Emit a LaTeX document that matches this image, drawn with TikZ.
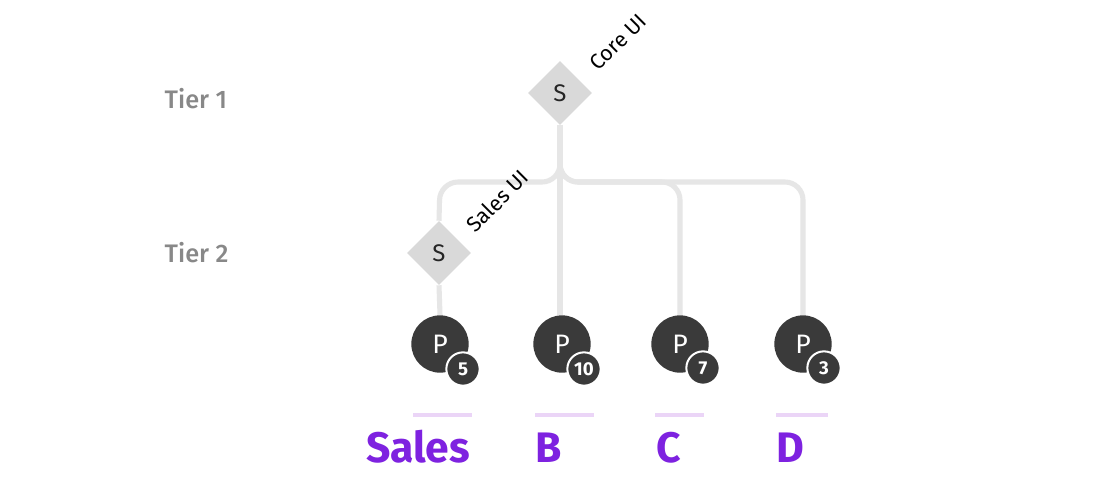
\documentclass[tikz,border=0pt]{standalone}
\usepackage{fontspec}
\setmainfont{Fira Sans}
\newfontfamily\medfont{Fira Sans Medium}
\usetikzlibrary{shapes.geometric,backgrounds}
\definecolor{connc}{HTML}{E6E6E6}
\definecolor{diamc}{HTML}{D9D9D9}
\definecolor{darkc}{HTML}{3A3A3A}
\definecolor{tierc}{HTML}{888888}
\definecolor{purpc}{HTML}{7E22E0}
\definecolor{lavc}{HTML}{EBD5F7}
\tikzset{
  snode/.style={diamond, fill=diamc, minimum width=48pt, minimum height=48pt, inner sep=0pt, aspect=1, font=\fontsize{18}{18}\selectfont, text=black!85},
  pnode/.style={circle, fill=darkc, minimum size=43pt, inner sep=0pt, text=white, font=\fontsize{20}{20}\selectfont},
  badge/.style={circle, fill=darkc, draw=white, line width=1.5pt, minimum size=25pt, inner sep=0pt, text=white, font=\bfseries\fontsize{14}{14}\selectfont},
  conn/.style={draw=connc, line width=3.8pt, rounded corners=13.5pt},
  tier/.style={anchor=base west, text=tierc, font=\medfont\fontsize{19}{19}\selectfont},
  rotlab/.style={rotate=45, text=black, font=\fontsize{16}{16}\selectfont},
  grp/.style={anchor=base, text=purpc, font=\bfseries\fontsize{32}{32}\selectfont},
  ubar/.style={fill=lavc, draw=none}
}
\begin{document}
\begin{tikzpicture}[x=0.75pt,y=-0.75pt]
\useasboundingbox (0,0) rectangle (1120,480);
\begin{scope}[on background layer]
\fill[white] (0,0) rectangle (1120,480);
\end{scope}
% tier labels
\node[tier] (t1) at (160,108) {Tier 1};
\node[tier] (t2) at (160,262) {Tier 2};
% diamonds
\node[snode] (core) at (560,93) {S};
\node[snode] (sales) at (439,253) {S};
% products
\node[pnode] (pA) at (440,344) {P};
\node[pnode] (pB) at (562,344) {P};
\node[pnode] (pC) at (680,344) {P};
\node[pnode] (pD) at (803,344) {P};
\node[badge] (bA) at (463,369) {5};
\node[badge] (bB) at (584,369) {10};
\node[badge] (bC) at (703,368) {7};
\node[badge] (bD) at (824,368) {3};
% rotated labels
\node[rotlab] (coreL) at (618,42) {Core UI};
\node[rotlab] (salesL) at (497,201) {Sales UI};
% connectors
\coordinate (hA) at (440,182);
\coordinate (hC) at (680,182);
\coordinate (hD) at (803,182);
\begin{scope}[on background layer]
\draw[conn] (core.south) |- (hA) -- (sales.north);
\draw[conn] (core.south) |- (hC) -- (pC.north);
\draw[conn] (core.south) |- (hD) -- (pD.north);
\draw[conn] (core.south) -- (pB.north -| core.south);
\draw[conn] (sales.south) -- (pA.north);
\end{scope}
% underline bars
\fill[ubar] (413,413) rectangle (472,417);
\fill[ubar] (535,413) rectangle (594,417);
\fill[ubar] (655,413) rectangle (704,417);
\fill[ubar] (776,413) rectangle (828,417);
% group labels
\node[grp] (gA) at (418,462) {Sales};
\node[grp] (gB) at (549,462) {B};
\node[grp] (gC) at (669,462) {C};
\node[grp] (gD) at (790,462) {D};
\end{tikzpicture}
\end{document}
